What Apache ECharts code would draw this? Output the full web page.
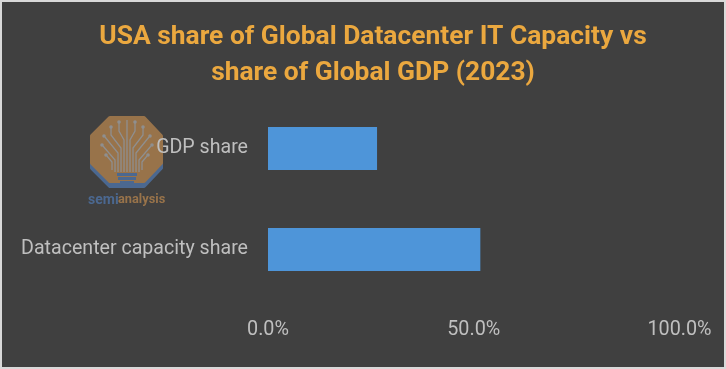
<!DOCTYPE html>
<html><head><meta charset="utf-8">
<style>html,body{margin:0;padding:0;background:#d9d9d9;overflow:hidden}
#c{position:absolute;left:0;top:0;width:726px;height:369px}</style>
<script src="https://cdn.jsdelivr.net/npm/echarts@6/dist/echarts.min.js"></script>
</head><body><div id="c"></div>
<script>
const titleLines = ["USA share of Global Datacenter IT Capacity vs", "share of Global GDP (2023)"];
const categories = ["Datacenter capacity share", "GDP share"];
const shareValues = [51.6, 26.5];
const xTicks = [0, 50, 100];

const chart = echarts.init(document.getElementById('c'), null, {renderer:'canvas'});
const F = 'Roboto, "Noto Sans", sans-serif';
const orange = '#98734a';
const steel = '#4b6890';
const grey = '#8f8f8f';
const branch = (pts)=>({type:'polyline',shape:{points:pts},style:{fill:null,stroke:grey,lineWidth:1.3},z:3,silent:true});
const dot = (x,y)=>({type:'circle',shape:{cx:x,cy:y,r:1.8},style:{fill:grey},z:3,silent:true});
const cx = 127;
chart.setOption({
  animation:false,
  backgroundColor:'#404040',
  title:{text:titleLines.join('\n'),left:368,top:14,textAlign:'center',
    textStyle:{color:'#eba83f',fontFamily:F,fontWeight:'bold',fontSize:26.4,lineHeight:36.5}},
  grid:{left:268,top:98,width:411.5,height:202,containLabel:false},
  xAxis:{type:'value',min:0,max:100,interval:50,
    axisLine:{show:false},axisTick:{show:false},splitLine:{show:false},
    axisLabel:{color:'#bfbfbf',fontFamily:F,fontSize:19.8,margin:20,hideOverlap:false,
      formatter:v=>xTicks.includes(v)?v.toFixed(1)+'%':''}},
  yAxis:{type:'category',data:categories,z:10,
    axisLine:{show:false},axisTick:{show:false},splitLine:{show:false},
    axisLabel:{color:'#bfbfbf',fontFamily:F,fontSize:19.6,margin:20,padding:[5,0,0,0]}},
  series:[{type:'bar',data:shareValues,barWidth:43,barGap:0,itemStyle:{color:'#4e95d9'},silent:true,z:2}],
  graphic:[
    {type:'rect',shape:{x:1,y:1,width:724,height:367},style:{fill:null,stroke:'#d9d9d9',lineWidth:2},z:1,silent:true},
    {type:'polygon',shape:{points:[[110,123],[144,123],[161,141],[161,168],[144,186],[110,186],[92,168],[92,141]]},style:{fill:steel,stroke:steel,lineWidth:4,lineJoin:'round'},z:1,silent:true},
    {type:'polygon',shape:{points:[[110,118],[144,118],[161,136],[161,163],[144,181],[110,181],[92,163],[92,136]]},style:{fill:orange,stroke:orange,lineWidth:4,lineJoin:'round'},z:1,silent:true},
    branch([[cx,172],[cx,120]]),
    branch([[cx-3,172],[cx-3,140],[cx-8,131],[cx-8,123]]),
    branch([[cx+3,172],[cx+3,140],[cx+8,131],[cx+8,123]]),
    branch([[cx-6,172],[cx-6,148],[cx-16,135],[cx-16,128]]),
    branch([[cx+6,172],[cx+6,148],[cx+16,135],[cx+16,128]]),
    branch([[cx-9,172],[cx-9,153],[cx-22,137]]),
    branch([[cx+9,172],[cx+9,153],[cx+22,137]]),
    branch([[cx-12,172],[cx-12,160],[cx-24,146]]),
    branch([[cx+12,172],[cx+12,160],[cx+24,146]]),
    branch([[cx-15,170],[cx-15,162],[cx-20,156]]),
    branch([[cx+15,170],[cx+15,162],[cx+20,156]]),
    dot(cx-8,122),dot(cx+8,122),dot(cx-16,127),dot(cx+16,127),dot(cx-23,136),dot(cx+23,136),dot(cx-25,145),dot(cx+25,145),dot(cx-21,155),dot(cx+21,155),
    {type:'rect',shape:{x:cx-10,y:173,width:20,height:3},style:{fill:steel},z:3,silent:true},
    {type:'rect',shape:{x:cx-9,y:177,width:18,height:3},style:{fill:steel},z:3,silent:true},
    {type:'rect',shape:{x:cx-7,y:181,width:14,height:3},style:{fill:steel},z:3,silent:true},
    {type:'text',x:88,y:193,style:{text:'semi',fill:steel,font:'bold 14px '+F},z:3,silent:true},
    {type:'text',x:118,y:193,style:{text:'analysis',fill:orange,font:'bold 12.8px '+F},z:3,silent:true}
  ]
});
</script></body></html>
